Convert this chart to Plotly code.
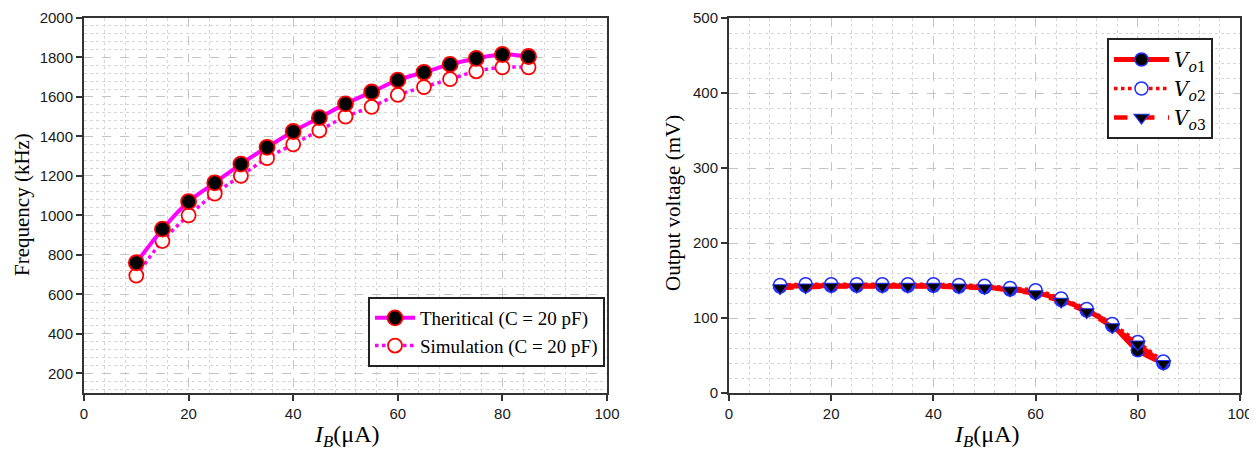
import plotly.graph_objects as go

ib = [10, 15, 20, 25, 30, 35, 40, 45, 50, 55, 60, 65, 70, 75, 80, 85]
freq_theory = [760, 930, 1070, 1165, 1260, 1345, 1425, 1495, 1565, 1625, 1685, 1725, 1765, 1795, 1815, 1805]
freq_sim = [695, 870, 1000, 1110, 1200, 1290, 1360, 1430, 1500, 1550, 1610, 1650, 1690, 1730, 1750, 1750]

vo1 = [142, 143, 143, 143, 143, 143, 143, 142, 141, 138, 134, 124, 110, 90, 57, 40]
vo2 = [144, 145, 145, 145, 145, 145, 145, 144, 143, 140, 137, 126, 112, 92, 68, 42]
vo3 = [140, 141, 142, 142, 142, 142, 142, 141, 140, 137, 132, 122, 108, 88, 65, 39]

# page body has an 8px margin: lay out in reference pixel coords, shifted
OFF = 8
W, H = 1257 - OFF, 458 - OFF


def px(x):
    return (x - OFF) / W


def py(y):
    return 1 - (y - OFF) / H


fig = go.Figure()

# Left chart
fig.add_trace(go.Scatter(
    x=ib, y=freq_sim, name="Simulation (C = 20 pF)", mode="lines+markers",
    line=dict(color="#ff00ff", width=3.5, dash="dot", shape="spline"),
    marker=dict(symbol="circle", size=14, color="white", line=dict(color="#ff0000", width=1.8)),
    xaxis="x", yaxis="y", legend="legend", legendrank=2))
fig.add_trace(go.Scatter(
    x=ib, y=freq_theory, name="Theritical (C = 20 pF)", mode="lines+markers",
    line=dict(color="#ff00ff", width=4, shape="spline"),
    marker=dict(symbol="circle", size=15, color="black", line=dict(color="#ff0000", width=1.8)),
    xaxis="x", yaxis="y", legend="legend", legendrank=1))

# Right chart
fig.add_trace(go.Scatter(
    x=ib, y=vo1, name="<i>V</i><sub><i>o</i>1</sub>", mode="lines+markers",
    line=dict(color="#ff0000", width=5, shape="spline"),
    marker=dict(symbol="circle", size=13, color="black", line=dict(color="#2030ff", width=1.5)),
    xaxis="x2", yaxis="y2", legend="legend2"))
fig.add_trace(go.Scatter(
    x=ib, y=vo2, name="<i>V</i><sub><i>o</i>2</sub>", mode="lines+markers",
    line=dict(color="#ff0000", width=3.5, dash="dot", shape="spline"),
    marker=dict(symbol="circle", size=13, color="white", line=dict(color="#2030ff", width=1.5)),
    xaxis="x2", yaxis="y2", legend="legend2"))
fig.add_trace(go.Scatter(
    x=ib, y=vo3, name="<i>V</i><sub><i>o</i>3</sub>", mode="lines+markers",
    line=dict(color="#ff0000", width=4.5, dash="dash", shape="spline"),
    marker=dict(symbol="triangle-down", size=13, color="black", line=dict(color="#2030ff", width=1.2)),
    xaxis="x2", yaxis="y2", legend="legend2"))

tickfont = dict(family="Liberation Sans, Arial", size=15, color="#1a1a1a")
grid_major = dict(showgrid=True, gridcolor="#c4c4c4", gridwidth=1, griddash="dash")
frame = dict(showline=True, mirror=True, linecolor="#333333", linewidth=2,
             ticks="outside", ticklen=6, tickcolor="#333333", tickwidth=1.5,
             zeroline=False, tickfont=tickfont)


def minor(step):
    return dict(dtick=step, showgrid=True, gridcolor="#d6d6d6", griddash="dot", gridwidth=1)


fig.update_layout(
    width=W, height=H,
    margin=dict(l=0, r=0, t=0, b=0),
    paper_bgcolor="white", plot_bgcolor="white",
    xaxis=dict(domain=[px(84), px(607)], range=[0, 100], dtick=20, tick0=0, minor=minor(4),
               anchor="y", automargin=False, **grid_major, **frame),
    yaxis=dict(domain=[py(393), py(18)], range=[100, 2000], dtick=200, tick0=0, minor=minor(40),
               anchor="x", automargin=False, **grid_major, **frame),
    xaxis2=dict(domain=[px(729), px(1240)], range=[0, 100], dtick=20, tick0=0, minor=minor(4),
                anchor="y2", automargin=False, **grid_major, **frame),
    yaxis2=dict(domain=[py(393), py(18)], range=[0, 500], dtick=100, tick0=0, minor=minor(20),
                anchor="x2", automargin=False, **grid_major, **frame),
    legend=dict(x=px(368), y=py(297), xanchor="left", yanchor="top",
                bgcolor="white", bordercolor="#222222", borderwidth=2,
                font=dict(family="Liberation Serif, Times New Roman", size=19, color="black"),
                tracegroupgap=0, itemwidth=40),
    legend2=dict(x=px(1107), y=py(38), xanchor="left", yanchor="top",
                 bgcolor="white", bordercolor="#222222", borderwidth=2,
                 font=dict(family="DejaVu Serif, Liberation Serif", size=20, color="black"),
                 tracegroupgap=0, itemwidth=55),
    showlegend=True,
    annotations=[
        dict(text="Frequency (kHz)", x=px(22), y=py(205), xref="paper", yref="paper",
             xanchor="center", yanchor="middle", textangle=-90, showarrow=False,
             font=dict(family="Liberation Serif, Times New Roman", size=21, color="black")),
        dict(text="Output voltage (mV)", x=px(673), y=py(203), xref="paper", yref="paper",
             xanchor="center", yanchor="middle", textangle=-90, showarrow=False,
             font=dict(family="Liberation Serif, Times New Roman", size=21, color="black")),
        dict(text="<i>I</i><sub><i>B</i></sub>(μA)", x=px(346), y=py(436), xref="paper", yref="paper",
             xanchor="center", yanchor="middle", showarrow=False,
             font=dict(family="Liberation Serif, Times New Roman", size=24, color="black")),
        dict(text="<i>I</i><sub><i>B</i></sub>(μA)", x=px(986), y=py(436), xref="paper", yref="paper",
             xanchor="center", yanchor="middle", showarrow=False,
             font=dict(family="Liberation Serif, Times New Roman", size=24, color="black")),
    ],
)

fig.write_html("out.html")
